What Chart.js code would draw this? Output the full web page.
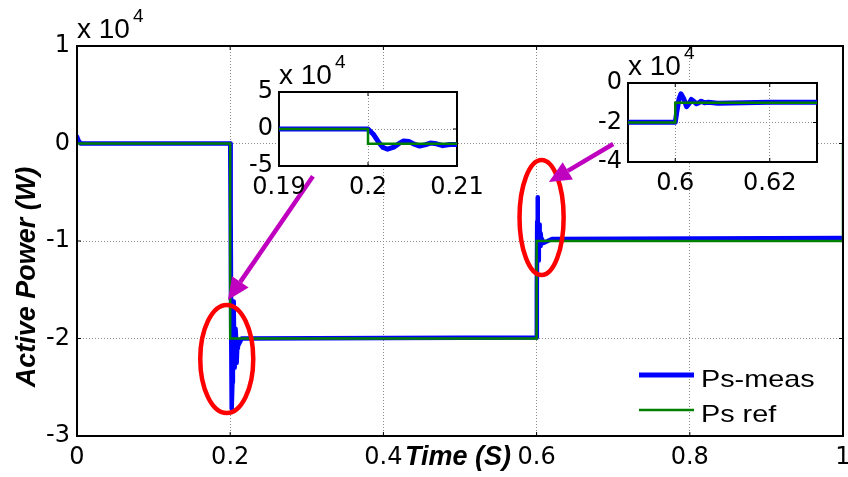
<!DOCTYPE html>
<html>
<head>
<meta charset="utf-8">
<script src="https://cdn.jsdelivr.net/npm/chart.js@4.4.1/dist/chart.umd.min.js"></script>
<style>
    html, body { margin: 0; padding: 0; background: #fff; }
    #wrap { position: relative; width: 848px; height: 477px; overflow: hidden; }
    canvas { position: absolute; }
    #main-chart { left: 0; top: 0; z-index: 0; }
    #main-box { position: absolute; box-sizing: border-box; border: 2px solid #000; z-index: 1; pointer-events: none; }
    #inset-a { left: 200px; top: 40px; z-index: 2; }
    #inset-b { left: 560px; top: 30px; z-index: 2; }
</style>
</head>
<body>
<div id="wrap">
    <canvas id="main-chart" width="848" height="477"></canvas>
    <div id="main-box"></div>
    <canvas id="inset-a" width="300" height="170"></canvas>
    <canvas id="inset-b" width="288" height="170"></canvas>
</div>
<script>
// Values in units of 1e4 W, time in s
const measTime = [0, 0.002, 0.005, 0.2, 0.2006, 0.2012, 0.2017, 0.2022, 0.2029, 0.2035, 0.204, 0.2046, 0.2052,
    0.2058, 0.2064, 0.207, 0.2077, 0.2084, 0.2092, 0.21, 0.215, 0.6, 0.6003, 0.6008, 0.6012, 0.6018,
    0.6024, 0.6029, 0.6034, 0.604, 0.6045, 0.605, 0.6055, 0.6062, 0.607, 0.609, 0.62, 0.998];
const measPower = [0.07, 0.03, 0, 0, -0.7, -1.8, -2.5, -2.72, -2.45, -1.95, -1.62, -1.7, -2.05,
    -2.3, -2.15, -1.9, -2.0, -2.25, -2.1, -2.08, -2.0, -1.99, -1.5, -0.8, -0.55, -0.8,
    -1.2, -1.05, -0.83, -0.95, -1.05, -1.0, -0.92, -1.0, -0.98, -1.02, -0.98, -0.97];
const refTime = [0, 0.2, 0.2, 0.6, 0.6, 1, 1];
const refPower = [0, 0, -2, -2, -1, -1, 0];

const mainXTicks = [0, 0.2, 0.4, 0.6, 0.8, 1];
const mainYTicks = [-3, -2, -1, 0, 1];
const insetAXTicks = [0.19, 0.2, 0.21];
const insetAYTicks = [-5, 0, 5];
const insetBXTicks = [0.6, 0.62];
const insetBYTicks = [-4, -2, 0];

const seriesNames = ['Ps-meas', 'Ps ref'];

// annotation marks (data coordinates)
const circleMarks = [
    { t: 0.1955, p: -2.21, dt: 0.0346, dp: 0.554 },
    { t: 0.6065, p: -0.759, dt: 0.0288, dp: 0.59 }
];
const arrowMarks = [
    { t0: 0.308, p0: -0.335, t1: 0.197, p1: -1.605 },
    { t0: 0.700, p0: -0.005, t1: 0.616, p1: -0.395 }
];

const BLUE = '#0000ff';
const GREEN = '#008000';
const tickFont = { family: '"DejaVu Sans", sans-serif', size: 24 };
const textFamily = '"Liberation Sans", Arial, sans-serif';

function toPoints(xs, ys) {
    return xs.map((x, i) => ({ x: x, y: ys[i] }));
}

function makeScale(min, max, tickValues, thickness, pad) {
    return {
        type: 'linear',
        min: min,
        max: max,
        afterBuildTicks: s => { s.ticks = tickValues.map(v => ({ value: v })); },
        afterFit: s => {
            if (s.isHorizontal()) s.height = thickness; else s.width = thickness;
            s.paddingLeft = 0; s.paddingRight = 0; s.paddingTop = 0; s.paddingBottom = 0;
        },
        ticks: {
            padding: pad,
            font: tickFont,
            color: '#000',
            autoSkip: false,
            maxRotation: 0,
            minRotation: 0,
            callback: v => String(v)
        },
        grid: { color: '#8c8c8c', lineWidth: 1, drawTicks: false },
        border: { display: false, dash: [1, 2] }
    };
}

function makeDatasets(blueWidth, greenWidth) {
    // green (ref) is drawn on top of the thick blue trace
    return [{
        label: seriesNames[0],
        data: toPoints(measTime, measPower),
        borderColor: BLUE,
        borderWidth: blueWidth,
        pointRadius: 0,
        tension: 0,
        order: 1,
        borderJoinStyle: 'round',
        borderCapStyle: 'round'
    }, {
        label: seriesNames[1],
        data: toPoints(refTime, refPower),
        borderColor: GREEN,
        borderWidth: greenWidth,
        pointRadius: 0,
        tension: 0,
        order: 0
    }];
}

function drawBox(chart) {
    const { ctx, chartArea: a } = chart;
    const xs = chart.scales.x, ys = chart.scales.y;
    ctx.save();
    ctx.setLineDash([]);
    ctx.strokeStyle = '#000';
    ctx.lineWidth = 2;
    ctx.strokeRect(a.left, a.top, a.right - a.left, a.bottom - a.top);
    ctx.lineWidth = 1;
    ctx.beginPath();
    xs.ticks.forEach(t => {
        const px = xs.getPixelForValue(t.value);
        ctx.moveTo(px, a.bottom);
        ctx.lineTo(px, a.bottom - 4);
        ctx.moveTo(px, a.top);
        ctx.lineTo(px, a.top + 4);
    });
    ys.ticks.forEach(t => {
        const py = ys.getPixelForValue(t.value);
        ctx.moveTo(a.left, py);
        ctx.lineTo(a.left + 4, py);
        ctx.moveTo(a.right, py);
        ctx.lineTo(a.right - 4, py);
    });
    ctx.stroke();
    ctx.restore();
}

// white plot background (insets only)
const whiteAreaPlugin = {
    id: 'whiteArea',
    beforeDraw(chart) {
        const { ctx, chartArea: a } = chart;
        ctx.save();
        ctx.fillStyle = '#fff';
        ctx.fillRect(a.left, a.top, a.right - a.left, a.bottom - a.top);
        ctx.restore();
    }
};

// MATLAB style box with inward ticks
const boxPlugin = {
    id: 'matlabBox',
    beforeDatasetsDraw(chart) { drawBox(chart); }
};

// "x 10^4" multiplier above the axes
const exponentPlugin = {
    id: 'exponentLabel',
    afterDraw(chart) {
        const { ctx, chartArea: a } = chart;
        ctx.save();
        ctx.fillStyle = '#000';
        ctx.textAlign = 'left';
        ctx.textBaseline = 'alphabetic';
        ctx.font = '28px ' + textFamily;
        ctx.fillText('x 10', a.left, a.top - 8);
        const w = ctx.measureText('x 10').width;
        ctx.font = '19px ' + textFamily;
        ctx.fillText('4', a.left + w + 3, a.top - 24);
        ctx.restore();
    }
};

const annotationPlugin = {
    id: 'annotations',
    afterDatasetsDraw(chart) {
        const { ctx } = chart;
        const x = chart.scales.x, y = chart.scales.y;
        ctx.save();
        ctx.strokeStyle = '#ff0000';
        ctx.lineWidth = 4.5;
        circleMarks.forEach(m => {
            const cx = x.getPixelForValue(m.t);
            const cy = y.getPixelForValue(m.p);
            const rx = x.getPixelForValue(m.t + m.dt) - cx;
            const ry = y.getPixelForValue(m.p - m.dp) - cy;
            ctx.beginPath();
            ctx.ellipse(cx, cy, rx, ry, 0, 0, Math.PI * 2);
            ctx.stroke();
        });

        ctx.strokeStyle = '#bf00bf';
        ctx.fillStyle = '#bf00bf';
        arrowMarks.forEach(m => {
            const x0 = x.getPixelForValue(m.t0), y0 = y.getPixelForValue(m.p0);
            const x1 = x.getPixelForValue(m.t1), y1 = y.getPixelForValue(m.p1);
            const ang = Math.atan2(y1 - y0, x1 - x0);
            const head = 22, half = 10;
            const bx = x1 - head * Math.cos(ang), by = y1 - head * Math.sin(ang);
            ctx.lineWidth = 4.5;
            ctx.beginPath();
            ctx.moveTo(x0, y0);
            ctx.lineTo(bx, by);
            ctx.stroke();
            ctx.beginPath();
            ctx.moveTo(x1, y1);
            ctx.lineTo(bx + half * Math.sin(ang), by - half * Math.cos(ang));
            ctx.lineTo(bx - half * Math.sin(ang), by + half * Math.cos(ang));
            ctx.closePath();
            ctx.fill();
        });
        ctx.restore();
    },
    afterDraw(chart) {
        const { ctx, chartArea: a } = chart;
        ctx.save();
        ctx.fillStyle = '#000';

        // axis titles
        ctx.font = 'italic bold 27px ' + textFamily;
        ctx.textAlign = 'center';
        ctx.textBaseline = 'alphabetic';
        ctx.fillText('Time (S)', (a.left + a.right) / 2 - 2, a.bottom + 29);
        ctx.save();
        ctx.translate(35, (a.top + a.bottom) / 2 + 36);
        ctx.rotate(-Math.PI / 2);
        ctx.fillText('Active Power (W)', 0, 0);
        ctx.restore();

        // legend
        const rows = [
            { y: a.bottom - 61, base: a.bottom - 49, color: BLUE, width: 5 },
            { y: a.bottom - 26, base: a.bottom - 14, color: GREEN, width: 2.5 }
        ];
        rows.forEach((r, i) => {
            ctx.strokeStyle = r.color;
            ctx.lineWidth = r.width;
            ctx.beginPath();
            ctx.moveTo(a.right - 204, r.y);
            ctx.lineTo(a.right - 149, r.y);
            ctx.stroke();
            ctx.save();
            ctx.translate(a.right - 142, r.base);
            ctx.scale(1.2, 1);
            ctx.font = '24px ' + textFamily;
            ctx.textAlign = 'left';
            ctx.fillText(seriesNames[i], 0, 0);
            ctx.restore();
        });
        ctx.restore();
    }
};

function makeChart(canvasId, xr, yr, padding, blueWidth, extraPlugins) {
    return new Chart(document.getElementById(canvasId), {
        type: 'line',
        data: { datasets: makeDatasets(blueWidth, 2.5) },
        options: {
            responsive: false,
            animation: false,
            layout: { padding: padding },
            scales: {
                x: makeScale(xr[0], xr[1], xr[2], xr[3], 7),
                y: makeScale(yr[0], yr[1], yr[2], yr[3], yr[4])
            },
            plugins: { legend: { display: false }, tooltip: { enabled: false } }
        },
        plugins: extraPlugins
    });
}

const mainChart = makeChart('main-chart',
    [0, 1, mainXTicks, 41], [-3, 1, mainYTicks, 77, 7],
    { left: 0, top: 46, right: 5, bottom: 0 }, 4.5,
    [boxPlugin, exponentPlugin, annotationPlugin]);

// main axes box also as an overlay element, sized from the chart area
const mainArea = mainChart.chartArea;
const mainBox = document.getElementById('main-box');
mainBox.style.left = (mainArea.left - 1) + 'px';
mainBox.style.top = (mainArea.top - 1) + 'px';
mainBox.style.width = (mainArea.right - mainArea.left + 2) + 'px';
mainBox.style.height = (mainArea.bottom - mainArea.top + 2) + 'px';

const insetA = makeChart('inset-a',
    [0.19, 0.21, insetAXTicks, 44], [-5, 5, insetAYTicks, 79, 6],
    { left: 0, top: 52, right: 43, bottom: 0 }, 5,
    [whiteAreaPlugin, boxPlugin, exponentPlugin]);

const insetB = makeChart('inset-b',
    [0.59, 0.63, insetBXTicks, 38], [-4, 0, insetBYTicks, 68, 6],
    { left: 0, top: 53, right: 31, bottom: 0 }, 5,
    [whiteAreaPlugin, boxPlugin, exponentPlugin]);
</script>
</body>
</html>
